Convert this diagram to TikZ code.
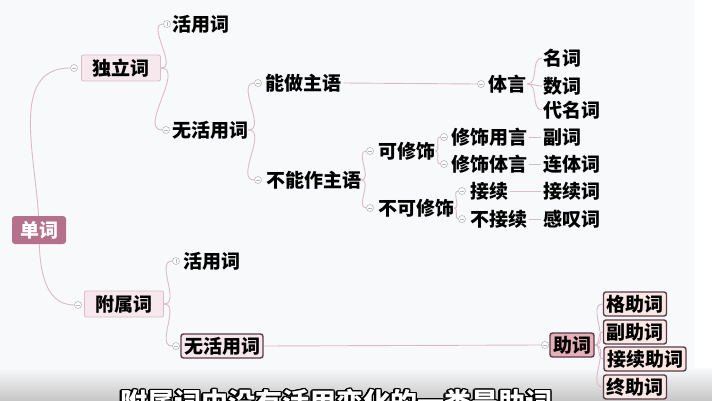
\documentclass[tikz,border=0pt]{standalone}
\usepackage{fontspec}
\usepackage{contour}
\newfontfamily\cjk{Noto Sans CJK SC}
\contourlength{1.3pt}
\definecolor{bgc}{HTML}{F8F9FB}
\definecolor{linec}{HTML}{DDBAC5}
\definecolor{boxfill}{HTML}{F7E8EE}
\definecolor{boxline}{HTML}{DDBBC8}
\definecolor{rootc}{HTML}{B5708C}
\definecolor{darkline}{HTML}{5B3B49}
\definecolor{zhufill}{HTML}{E6B0BA}
\definecolor{leaffill}{HTML}{FBE8E4}
\definecolor{mkc}{HTML}{B8B8B8}
\pgfdeclarelayer{back}
\pgfdeclarelayer{bg}
\pgfsetlayers{back,bg,main}
\tikzset{
  txt/.style={font=\cjk\bfseries\fontsize{19}{22}\selectfont, inner sep=0pt, anchor=west, text=black},
  lbox/.style={txt, anchor=center, rounded corners=2pt, draw=boxline, fill=boxfill, line width=0.9pt, minimum height=26pt, inner xsep=11pt},
  dbox/.style={txt, anchor=center, rounded corners=2.5pt, draw=darkline, line width=1.4pt, minimum height=24pt, inner xsep=3pt},
  rootbox/.style={txt, anchor=center, rounded corners=3pt, fill=rootc, text=white, minimum height=28pt, minimum width=54pt},
  conn/.style={draw=linec, line width=0.9pt},
  mk/.style={circle, draw=mkc, fill=white, line width=0.6pt, minimum size=7pt, inner sep=0pt,
    path picture={\draw[mkc, line width=0.6pt] ([xshift=-2pt]path picture bounding box.center) -- ([xshift=2pt]path picture bounding box.center);}},
  mkplus/.style={mk, path picture={\draw[mkc, line width=0.6pt] ([yshift=-2pt]path picture bounding box.center) -- ([yshift=2pt]path picture bounding box.center);}},
  sub/.style={font=\cjk\bfseries\fontsize{27}{30}\selectfont, text=white, anchor=west, inner sep=0pt}
}
\begin{document}
\begin{tikzpicture}[x=1pt,y=1pt]
\useasboundingbox (0,0) rectangle (712,-401);
\begin{pgfonlayer}{back}
\fill[white] (0,0) rectangle (712,-401);
\fill[bgc] (0,0) rectangle (694,-401);
\shade[top color=bgc, bottom color=gray!45] (0,-368) rectangle (712,-401);
\end{pgfonlayer}

% root
\node[rootbox] (danci) at (39,-230) {单词};
% level 1
\node[lbox] (duli) at (121,-68) {独立词};
\node[mk] (mduli) at (74,-68) {};
\node[lbox] (fushu) at (124,-304) {附属词};
\node[mk] (mfushu) at (78,-305) {};

% under 独立词
\node[txt] (huo1) at (172,-24) {活用词};
\node[mkplus] (mhuo1) at (167,-24) {};
\node[txt] (wu1) at (172,-130) {无活用词};
\node[mk] (mwu1) at (166,-130) {};

\node[txt] (neng) at (265,-83) {能做主语};
\node[mk] (mneng) at (258,-83) {};
\node[txt] (buneng) at (266,-180) {不能作主语};
\node[mk] (mbuneng) at (258,-180) {};

\node[txt] (kexs) at (378,-151) {可修饰};
\node[mk] (mkexs) at (370,-151) {};
\node[txt] (bukexs) at (378,-208) {不可修饰};
\node[mk] (mbukexs) at (370,-208) {};

\node[txt] (xsyy) at (451,-137) {修饰用言};
\node[mk] (mxsyy) at (444,-137) {};
\node[txt] (xsty) at (451,-164) {修饰体言};
\node[mk] (mxsty) at (444,-164) {};
\node[txt] (jx) at (470,-191) {接续};
\node[mk] (mjx) at (462,-191) {};
\node[txt] (bujx) at (470,-219) {不接续};
\node[mk] (mbujx) at (462,-219) {};

\node[txt] (tiyan) at (488,-84) {体言};
\node[mk] (mtiyan) at (481,-84) {};

\node[txt] (mingci) at (543,-58) {名词};
\node[txt] (shuci) at (543,-86) {数词};
\node[txt] (daimingci) at (543,-110) {代名词};
\node[txt] (fuci) at (543,-137) {副词};
\node[txt] (liantici) at (543,-164) {连体词};
\node[txt] (jiexuci) at (543,-191) {接续词};
\node[txt] (gantanci) at (543,-219) {感叹词};

% under 附属词
\node[txt] (huo2) at (183,-261) {活用词};
\node[mkplus] (mhuo2) at (176,-261) {};
\node[dbox, fill=boxfill] (wu2) at (222,-346) {无活用词};
\node[mk] (mwu2) at (176,-346) {};
\node[dbox, fill=zhufill] (zhuci) at (572,-345) {助词};
\node[mk] (mzhuci) at (545,-345) {};
\node[dbox, fill=leaffill] (ge) at (635,-304) {格助词};
\node[dbox, fill=leaffill] (fu) at (635,-332) {副助词};
\node[dbox, fill=leaffill] (jxzc) at (645,-359) {接续助词};
\node[dbox, fill=leaffill] (zhong) at (635,-387) {终助词};

% subtitle
\node[sub] (subt) at (120,-403) {\contour{black}{附属词中没有活用变化的一类是助词}};

\begin{pgfonlayer}{bg}
\draw[conn] (danci.center) to[out=90,in=180] (mduli.west);
\draw[conn] (danci.center) to[out=-90,in=180] (mfushu.west);
\draw[conn] (duli.east) to[out=0,in=180] (mhuo1.west);
\draw[conn] (duli.east) to[out=0,in=180] (mwu1.west);
\draw[conn] (wu1.east) to[out=0,in=180] (mneng.west);
\draw[conn] (wu1.east) to[out=0,in=180] (mbuneng.west);
\draw[conn] (buneng.east) to[out=0,in=180] (mkexs.west);
\draw[conn] (buneng.east) to[out=0,in=180] (mbukexs.west);
\draw[conn] (kexs.east) to[out=0,in=180] (mxsyy.west);
\draw[conn] (kexs.east) to[out=0,in=180] (mxsty.west);
\draw[conn] (bukexs.east) to[out=0,in=180] (mjx.west);
\draw[conn] (bukexs.east) to[out=0,in=180] (mbujx.west);
\draw[conn] ([xshift=2pt]neng.east) -- (mtiyan.west);
\draw[conn] ([xshift=1pt]tiyan.east) to[out=0,in=180] ([xshift=-1pt]mingci.west);
\draw[conn] ([xshift=1pt]tiyan.east) to[out=0,in=180] ([xshift=-1pt]shuci.west);
\draw[conn] ([xshift=1pt]tiyan.east) to[out=0,in=180] ([xshift=-1pt]daimingci.west);
\draw[conn] ([xshift=2pt]xsyy.east) -- ([xshift=-2pt]fuci.west);
\draw[conn] ([xshift=2pt]xsty.east) -- ([xshift=-2pt]liantici.west);
\draw[conn] ([xshift=2pt]jx.east) -- ([xshift=-2pt]jiexuci.west);
\draw[conn] ([xshift=2pt]bujx.east) -- ([xshift=-2pt]gantanci.west);
\draw[conn] (fushu.east) to[out=0,in=180] (mhuo2.west);
\draw[conn] (fushu.east) to[out=0,in=180] (mwu2.west);
\draw[conn] (wu2.east) -- (mzhuci.west);
\draw[conn] (zhuci.east) to[out=0,in=180] (ge.west);
\draw[conn] (zhuci.east) to[out=0,in=180] (fu.west);
\draw[conn] (zhuci.east) to[out=0,in=180] (jxzc.west);
\draw[conn] (zhuci.east) to[out=0,in=180] (zhong.west);
\end{pgfonlayer}
\end{tikzpicture}
\end{document}
